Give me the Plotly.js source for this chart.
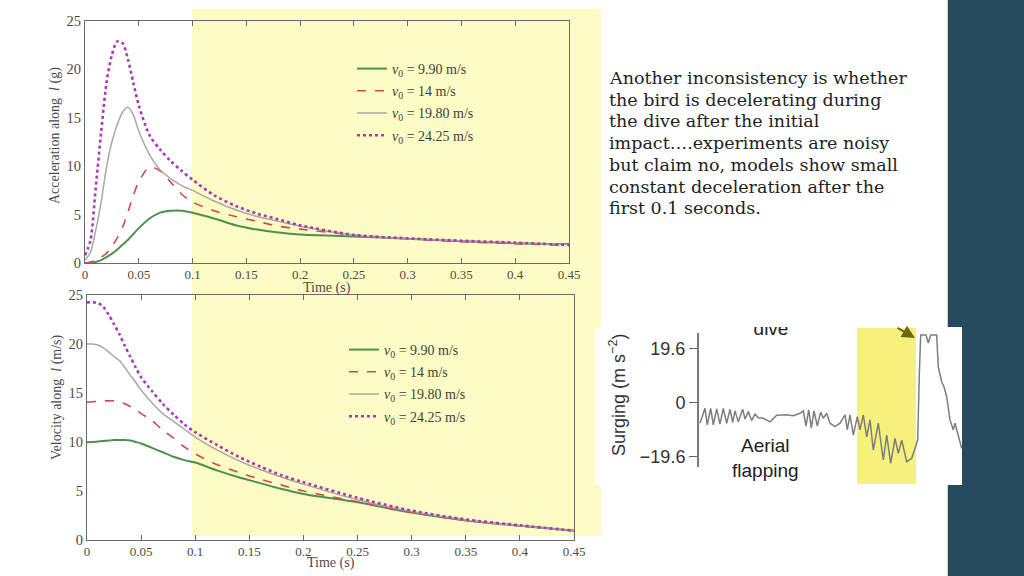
<!DOCTYPE html>
<html>
<head>
<meta charset="utf-8">
<script src="https://cdn.plot.ly/plotly-3.0.1.min.js"></script>
<style>html,body{margin:0;padding:0;background:#fff;}#chart{width:1024px;height:576px;}</style>
</head>
<body>
<div id="chart"></div>
<script>
// ---------- data ----------
const seriesNames = ['<i>v</i><sub>0</sub> = 9.90 m/s', '<i>v</i><sub>0</sub> = 14 m/s', '<i>v</i><sub>0</sub> = 19.80 m/s', '<i>v</i><sub>0</sub> = 24.25 m/s'];
const time = [0, 0.005, 0.01, 0.015, 0.02, 0.025, 0.03, 0.035, 0.04, 0.045, 0.05, 0.06, 0.07, 0.08, 0.09, 0.1, 0.12, 0.14, 0.16, 0.18, 0.2, 0.25, 0.3, 0.35, 0.4, 0.45];

// acceleration along l (g)
const accV990  = [0, 0, 0.1, 0.3, 0.6, 0.95, 1.4, 1.9, 2.4, 3.0, 3.6, 4.6, 5.2, 5.4, 5.4, 5.2, 4.6, 3.9, 3.45, 3.15, 2.95, 2.75, 2.5, 2.25, 2.05, 1.95];
const accV14   = [0, 0.1, 0.3, 0.6, 1.0, 1.7, 2.6, 3.7, 5.3, 7.0, 8.4, 9.9, 9.5, 8.3, 7.1, 6.3, 5.4, 4.8, 4.3, 3.8, 3.5, 2.9, 2.5, 2.2, 2.0, 1.8];
const accV1980 = [0.3, 1.1, 3.4, 6.3, 9.9, 12.5, 14.3, 15.6, 16.1, 15.3, 13.6, 11.2, 9.6, 8.7, 8.0, 7.5, 6.4, 5.5, 4.8, 4.3, 3.8, 2.9, 2.5, 2.3, 2.1, 1.9];
const accV2425 = [0.8, 2.3, 7.8, 13.5, 18.6, 21.5, 22.9, 22.7, 21.0, 18.6, 16.3, 13.2, 11.7, 10.5, 9.5, 8.6, 7.0, 5.9, 5.1, 4.5, 3.9, 2.9, 2.55, 2.3, 2.1, 1.85];

// velocity along l (m/s)
const velV990  = [9.97, 10.0, 10.05, 10.1, 10.15, 10.2, 10.2, 10.2, 10.15, 10.0, 9.85, 9.4, 8.95, 8.5, 8.15, 7.9, 7.1, 6.4, 5.8, 5.2, 4.7, 3.85, 2.8, 2.0, 1.45, 0.95];
const velV14   = [14.05, 14.1, 14.15, 14.2, 14.2, 14.2, 14.1, 13.9, 13.6, 13.3, 12.9, 12.2, 11.2, 10.4, 9.5, 8.8, 7.7, 6.9, 6.2, 5.6, 5.0, 3.9, 2.8, 2.0, 1.45, 0.95];
const velV1980 = [20.0, 20.0, 19.9, 19.6, 19.2, 18.7, 18.3, 17.6, 16.8, 16.1, 15.3, 14.0, 12.9, 12.1, 11.3, 10.5, 9.2, 8.1, 7.2, 6.4, 5.7, 4.1, 2.9, 2.05, 1.45, 0.95];
const velV2425 = [24.25, 24.25, 24.2, 23.8, 23.0, 22.0, 21.0, 19.8, 18.7, 17.6, 16.6, 15.2, 13.9, 12.8, 11.8, 11.0, 9.7, 8.5, 7.5, 6.6, 5.9, 4.3, 3.0, 2.1, 1.5, 0.95];

const xTicks = [0, 0.05, 0.1, 0.15, 0.2, 0.25, 0.3, 0.35, 0.4, 0.45];
const xTickText = ['0', '0.05', '0.1', '0.15', '0.2', '0.25', '0.3', '0.35', '0.4', '0.45'];
const yTicks = [0, 5, 10, 15, 20, 25];

// inset: surging acceleration record
const surgeT = [2, 7, 9.3, 12.7, 15.3, 18.7, 22, 25.3, 28.7, 32, 34.7, 37, 40.3, 44.7, 47, 50.3, 53.7, 57, 60.3, 65.3, 72, 78.7, 88.7, 95.3, 102, 105.3, 108, 110.7, 113.3, 116, 119.3, 122.7, 125.3, 128.7, 132, 137, 142, 147, 149.3, 152, 155.3, 159.3, 162, 165.3, 168.7, 172, 175.3, 180.3, 185.3, 188.7, 192.7, 197, 200.3, 203.7, 208.7, 213.7, 217, 219.7, 221.3, 222.7, 228, 230.3, 232.7, 238.7, 240.3, 243.7, 246, 248.7, 252, 255.3, 257, 260.3, 263.7];
const surgeA = [-7.5, -2.1, -8.1, -2.1, -8.1, -2.3, -7.8, -2.1, -7.5, -2.5, -7.2, -3.0, -7.0, -2.4, -6.0, -3.3, -6.5, -4.2, -5.5, -5.7, -7.0, -4.6, -4.4, -4.8, -3.9, -3.0, -8.5, -2.7, -9.3, -3.0, -8.5, -3.5, -5.7, -3.9, -7.5, -8.7, -7.5, -4.5, -9.9, -4.5, -11.8, -5.1, -9.9, -4.5, -12.4, -6.3, -17.2, -7.5, -20.8, -11.8, -22.0, -13.0, -18.4, -13.6, -21.4, -20.2, -16.6, -13.5, 10, 24.4, 24.4, 21.5, 24.4, 24.4, 12.9, 7.5, 5.7, 2.1, -6.3, -9.9, -7.5, -12.0, -16.6];
const surgeTicks = [-19.6, 0, 19.6];
const surgeTickText = ['\u221219.6', '0', '19.6'];

const noteLines = [
  'Another inconsistency is whether',
  'the bird is decelerating during',
  'the dive after the initial',
  'impact\u2026.experiments are noisy',
  'but claim no, models show small',
  'constant deceleration after the',
  'first 0.1 seconds.'
];

// ---------- styling ----------
const W = 1024, H = 576;
const px = v => v / W;
const py = v => 1 - v / H;
const styles = [
  {color: '#4f8f4f', width: 2, dash: 'solid'},
  {color: '#cc4a4a', width: 1.6, dash: 'dash'},
  {color: '#a8a8a8', width: 1.5, dash: 'solid'},
  {color: '#a63bb5', width: 2.6, dash: 'dot'}
];
const serif = 'Liberation Serif, Times New Roman, serif';
const sans = 'Liberation Sans, Arial, sans-serif';

const accData = [accV990, accV14, accV1980, accV2425];
const velData = [velV990, velV14, velV1980, velV2425];
const traces = [];
accData.forEach((ys, i) => traces.push({
  x: time, y: ys, type: 'scatter', mode: 'lines', name: seriesNames[i],
  line: {color: styles[i].color, width: styles[i].width, dash: styles[i].dash, shape: 'spline', smoothing: 0.8},
  xaxis: 'x', yaxis: 'y', legend: 'legend', legendgroup: 'a' + i
}));
velData.forEach((ys, i) => traces.push({
  x: time, y: ys, type: 'scatter', mode: 'lines', name: seriesNames[i],
  line: {color: styles[i].color, width: styles[i].width, dash: styles[i].dash, shape: 'spline', smoothing: 0.8},
  xaxis: 'x2', yaxis: 'y2', legend: 'legend2', legendgroup: 'v' + i
}));
traces.push({
  x: surgeT, y: surgeA, type: 'scatter', mode: 'lines', showlegend: false,
  line: {color: '#7d7d7d', width: 1.5}, xaxis: 'x3', yaxis: 'y3'
});
traces.push({
  x: [73], y: [26.2], type: 'scatter', mode: 'text', text: ['dive'], showlegend: false,
  textfont: {family: sans, size: 19, color: '#222'}, cliponaxis: true, hoverinfo: 'skip',
  xaxis: 'x3', yaxis: 'y3'
});

const xTickFont = {family: serif, size: 13, color: '#4a4a4a'};
const yTickFont = {family: serif, size: 14.5, color: '#4a4a4a'};
function mainX(domain, anchor) {
  return {domain: domain, anchor: anchor, range: [0, 0.45], tickvals: xTicks, ticktext: xTickText,
    ticks: 'inside', ticklen: 5, tickcolor: '#6a6a6a', showline: true, linecolor: '#6a6a6a', linewidth: 1,
    mirror: 'ticks', showgrid: false, zeroline: false, tickfont: xTickFont, automargin: false, ticklabelstandoff: -1};
}
function mainY(domain, anchor) {
  return {domain: domain, anchor: anchor, range: [0, 25], tickvals: yTicks,
    ticks: '', showline: true, linecolor: '#6a6a6a', linewidth: 1,
    mirror: true, showgrid: false, zeroline: false, tickfont: yTickFont, automargin: false};
}
function rightY(over, anchor) {
  return {overlaying: over, anchor: anchor, side: 'right', range: [0, 25], tickvals: yTicks,
    ticks: 'inside', ticklen: 5, tickcolor: '#6a6a6a', showticklabels: false, showline: false,
    showgrid: false, zeroline: false};
}

const titleFont = {family: serif, size: 14, color: '#4a4a4a'};
const annotations = [
  {text: 'Acceleration along  <i>l</i> (g)', x: px(55), y: py(136), xanchor: 'center', yanchor: 'middle', xref: 'paper', yref: 'paper', showarrow: false, textangle: -90, font: titleFont},
  {text: 'Time (s)', x: px(327), y: py(288), xanchor: 'center', yanchor: 'middle', xref: 'paper', yref: 'paper', showarrow: false, font: titleFont},
  {text: 'Velocity along  <i>l</i> (m/s)', x: px(57), y: py(397), xanchor: 'center', yanchor: 'middle', xref: 'paper', yref: 'paper', showarrow: false, textangle: -90, font: titleFont},
  {text: 'Time (s)', x: px(331), y: py(563), xanchor: 'center', yanchor: 'middle', xref: 'paper', yref: 'paper', showarrow: false, font: titleFont},
  {text: 'Surging (m s<sup>\u22122</sup>)', x: px(617), y: py(395), xanchor: 'center', yanchor: 'middle', xref: 'paper', yref: 'paper', showarrow: false, textangle: -90, font: {family: sans, size: 18, color: '#333'}},
  {text: 'Aerial', x: px(765), y: py(445), xanchor: 'center', yanchor: 'middle', xref: 'paper', yref: 'paper', showarrow: false, font: {family: sans, size: 19, color: '#222'}},
  {text: 'flapping', x: px(765), y: py(470), xanchor: 'center', yanchor: 'middle', xref: 'paper', yref: 'paper', showarrow: false, font: {family: sans, size: 19, color: '#222'}},
  {text: '', x: px(915), y: py(338), xref: 'paper', yref: 'paper', showarrow: true, ax: -19, ay: -11, arrowcolor: '#6d6a12', arrowwidth: 2, arrowhead: 2, arrowsize: 1.3}
];
noteLines.forEach((t, i) => annotations.push({
  text: t, x: px(607), y: py(78 + i * 21.7), xref: 'paper', yref: 'paper', xanchor: 'left', yanchor: 'middle',
  showarrow: false, font: {family: 'DejaVu Serif, serif', size: 17.5, color: '#222'}
}));

const shapes = [
  {type: 'rect', xref: 'paper', yref: 'paper', x0: px(192), x1: px(601), y0: py(536), y1: py(9), fillcolor: '#fdfcc4', line: {width: 0}, layer: 'below'},
  {type: 'rect', xref: 'paper', yref: 'paper', x0: px(948), x1: 1, y0: 0, y1: 1, fillcolor: '#264a5e', line: {width: 0}, layer: 'below'},
  {type: 'line', xref: 'paper', yref: 'paper', x0: px(947.5), x1: px(947.5), y0: 0, y1: 1, line: {color: '#cfcfcf', width: 1}, layer: 'below'},
  {type: 'rect', xref: 'paper', yref: 'paper', x0: px(595), x1: px(962), y0: py(485), y1: py(327), fillcolor: '#ffffff', line: {width: 0}, layer: 'below'},
  {type: 'rect', xref: 'paper', yref: 'paper', x0: px(857), x1: px(916), y0: py(484), y1: py(328), fillcolor: '#f6f17c', line: {width: 0}, layer: 'below'},
  {type: 'line', xref: 'paper', yref: 'paper', x0: px(698), x1: px(698), y0: py(467), y1: py(333), line: {color: '#7a7a7a', width: 2}}
];

const legendFont = {family: serif, size: 14, color: '#3f3f3f'};
const layout = {
  width: W, height: H, margin: {l: 0, r: 0, t: 0, b: 0},
  paper_bgcolor: '#ffffff', plot_bgcolor: 'rgba(0,0,0,0)',
  showlegend: true,
  xaxis: mainX([px(85), px(569)], 'y'),
  yaxis: mainY([py(263), py(21)], 'x'),
  xaxis2: mainX([px(87), px(574)], 'y2'),
  yaxis2: mainY([py(540), py(295)], 'x2'),
  yaxis4: rightY('y', 'x'),
  yaxis5: rightY('y2', 'x2'),
  xaxis3: {domain: [px(698), px(962)], anchor: 'y3', range: [0, 264], showline: false, showticklabels: false, ticks: '', showgrid: false, zeroline: false},
  yaxis3: {domain: [py(485), py(327)], anchor: 'x3', range: [-29.84, 27.31], tickvals: surgeTicks, ticktext: surgeTickText,
    ticks: 'outside', ticklen: 8, tickwidth: 1.5, tickcolor: '#666', showline: false, showgrid: false, zeroline: false,
    tickfont: {family: sans, size: 18, color: '#333'}, automargin: false},
  legend: {x: px(352), y: py(53), xanchor: 'left', yanchor: 'top', bgcolor: 'rgba(0,0,0,0)', font: legendFont, itemwidth: 30, tracegroupgap: 1, traceorder: 'grouped'},
  legend2: {x: px(344), y: py(334), xanchor: 'left', yanchor: 'top', bgcolor: 'rgba(0,0,0,0)', font: legendFont, itemwidth: 30, tracegroupgap: 1, traceorder: 'grouped'},
  annotations: annotations,
  shapes: shapes
};

Plotly.newPlot('chart', traces, layout, {staticPlot: true, displayModeBar: false});
</script>
</body>
</html>
